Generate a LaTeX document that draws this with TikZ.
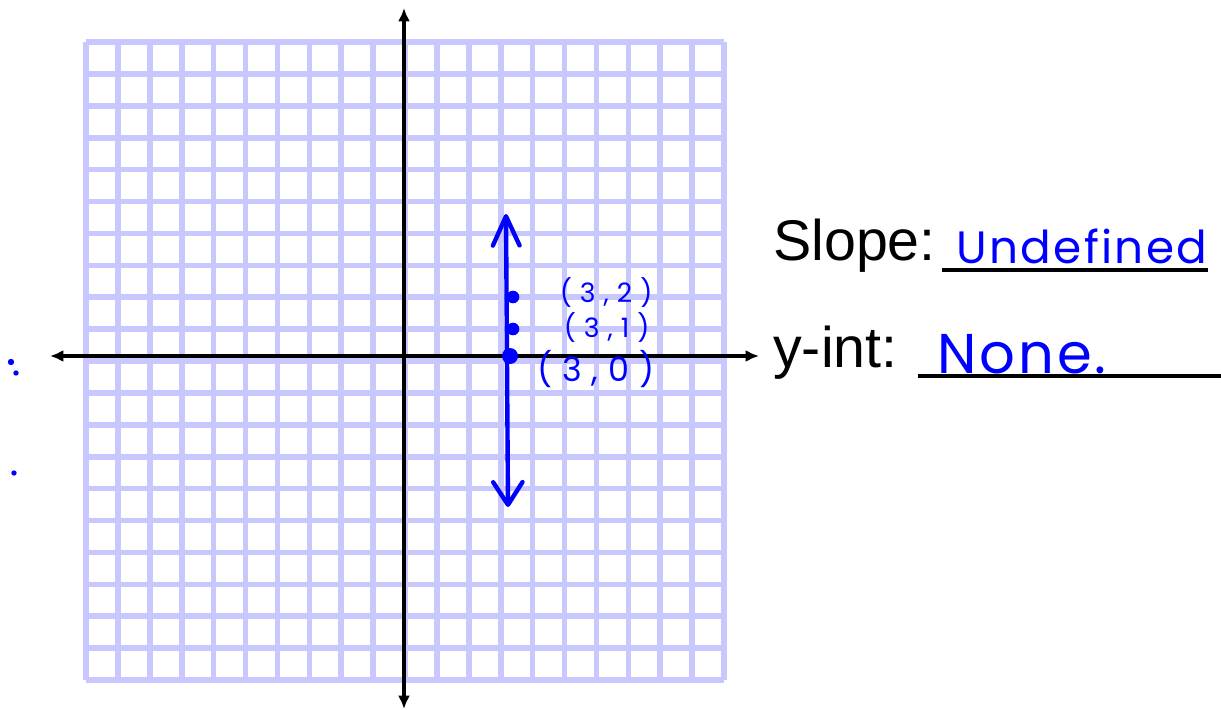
\documentclass[tikz,border=0pt]{standalone}
\usepackage{fontspec}
\setmainfont{Liberation Sans}
\newfontfamily\handfont[LetterSpace=5]{Poppins}
\newfontfamily\handwide[LetterSpace=30]{Poppins}
\usepackage{tikz}
\usetikzlibrary{arrows.meta,positioning}
\definecolor{gridlav}{RGB}{200,200,255}
\definecolor{inkblue}{RGB}{0,0,255}

\begin{document}
\begin{tikzpicture}[
  x=0.75pt, y=-0.75pt,
  gridline/.style={draw=gridlav, line width=4.2pt},
  axis/.style={draw=black, line width=2.3pt, {Latex[length=10pt,width=9pt]}-{Latex[length=10pt,width=9pt]}},
  ink/.style={draw=inkblue, line width=3.3pt, line cap=round, line join=round},
  barb/.style={{Straight Barb[length=22pt,width=20pt,round]}-{Straight Barb[length=17pt,width=22pt,round]}},
  dot/.style={circle, fill=inkblue, inner sep=0pt, minimum size=9.5pt},
  hand/.style={text=inkblue, font=\handfont\fontsize{34}{34}\selectfont, inner sep=0pt},
  coordlabel/.style={text=inkblue, font=\handwide\fontsize{20}{20}\selectfont, inner sep=0pt},
  prompt/.style={font=\fontsize{43}{43}\selectfont, inner sep=0pt, anchor=base west},
  blank/.style={draw=black, line width=3pt}
]
  \useasboundingbox (0,0) rectangle (1221,710);

  % graph paper, 20 x 20
  \foreach \i in {0,...,20} {
    \draw[gridline] (86+31.9*\i,42) -- (86+31.9*\i,680);
    \draw[gridline] (86,42+31.9*\i) -- (724,42+31.9*\i);
  }

  % axes
  \coordinate (xmin) at (50,356);
  \coordinate (xmax) at (759,356);
  \coordinate (ymax) at (404,8);
  \coordinate (ymin) at (404,709);
  \draw[axis] (xmin) -- (xmax);
  \draw[axis] (ymax) -- (ymin);

  % the line x = 3
  \coordinate (top) at (506,214);
  \coordinate (bot) at (508,507);
  \draw[ink, barb] (top) -- (bot);

  \node[dot] (p2) at (513,297) {};
  \node[dot] (p1) at (513,329) {};
  \node[dot, minimum size=12pt] (p0) at (510,356) {};

  \node[coordlabel, right=30pt of p2, yshift=3pt] (l2) {(3,2)};
  \node[coordlabel, right=33pt of p1, yshift=1pt] (l1) {(3,1)};
  \node[coordlabel, right=14pt of p0, yshift=-10pt, font=\handwide\fontsize{25}{25}\selectfont] (l0) {(3,0)};

  % answers
  \node[prompt] (slope) at (773,260) {Slope:};
  \node[prompt] (yint) at (773,367) {y-int:};
  \coordinate (s1) at (942,270);
  \coordinate (s2) at (1208,270);
  \coordinate (y1) at (918,376);
  \coordinate (y2) at (1221,376);
  \draw[blank] (s1) -- (s2);
  \draw[blank] (y1) -- (y2);
  \node[hand] (undef) at (1082,246) {Undefined};
  \node[hand, font=\handfont\fontsize{42}{42}\selectfont] (none) at (1022,354) {None.};

  % cut-off marks at the left edge
  \fill[inkblue] (11,362) circle (2.4pt);
  \fill[inkblue] (16,373) circle (2pt);
  \fill[inkblue] (14,473) circle (2pt);
\end{tikzpicture}
\end{document}
